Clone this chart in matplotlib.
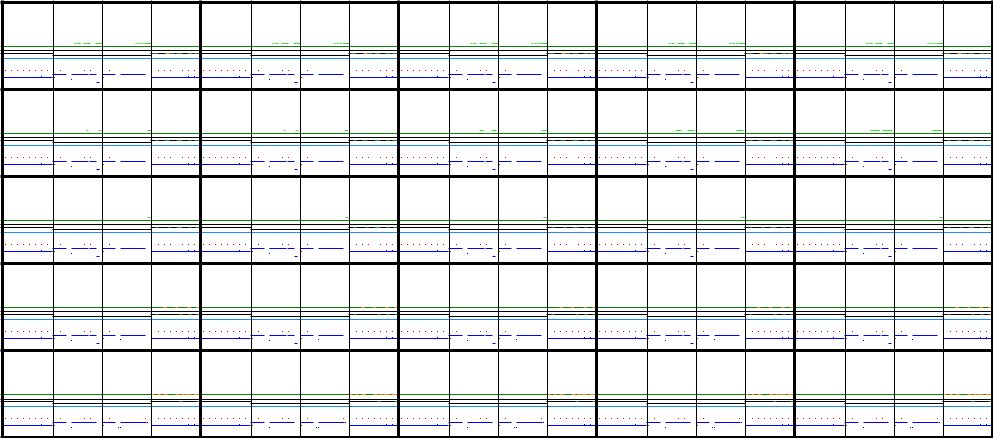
import matplotlib.pyplot as plt
import numpy as np

# 5 x 5 panels, each split into 4 lanes; all values in px inside one panel
n_cols, n_rows = 5, 5
panel_w, panel_h = 198.04, 87.08
lane_edges = [52.3, 101.3, 150.3]

# levels (px from the top of a panel row)
lvl_lime, lvl_green, lvl_black1 = 42.5, 45.2, 49.7
lvl_black2, lvl_black2_mid, lvl_sky = 52.2, 54.3, 57.2
lvl_red, lvl_blue_seg, lvl_blue, lvl_blue_dash = 69.2, 73.3, 76.3, 81.5

# red points
red_x = [4.3, 10.3, 16.3, 22.3, 28.3, 34.3, 40.3, 46.3, 59.3, 83.3, 89.3,
         108.3, 157.3, 163.3, 169.3, 181.3, 187.3, 193.3]
red_extra = [[], [], [], [175.3], [175.3, 144.3]]

# blue
blue_line = [(3.0, 51.0), (151.0, 198.0)]
blue_segs_std = [(52.7, 65.0), (71.0, 87.5), (89.0, 95.0), (102.0, 114.0), (120.0, 144.0)]
blue_segs_last = [(52.7, 65.0), (71.0, 95.0), (102.0, 114.0), (120.0, 145.0)]
blue_segs = [blue_segs_std] * 4 + [blue_segs_last]
blue_ticks = [40.3, 187.3, 193.3]
blue_dots = [[(70.3, 78.3)], [(70.3, 78.3)], [(70.3, 78.3)],
             [(70.3, 78.3), (119.0, 77.7)],
             [(70.3, 78.3), (117.0, 78.3), (119.3, 78.3), (146.0, 73.3)]]
blue_dash = [[(96.0, 98.0)]] * 4 + [[]]
dark_red_x = [53.3, 102.0]

# lime marks above the green line: one list per row, per column
lime_row0 = [(74.0, 75.5), (77.3, 79.0), (83.3, 85.0), (86.3, 89.0), (95.0, 97.0),
             (98.0, 101.0), (135.0, 136.0), (138.0, 139.0), (141.0, 142.0), (144.0, 150.0)]
lime_row1 = [[(86.0, 87.0), (98.0, 100.5), (147.0, 150.0)],
             [(85.5, 86.5), (97.5, 99.5), (146.5, 149.5)],
             [(83.0, 86.0), (95.0, 99.0), (145.0, 149.0)],
             [(81.0, 86.0), (93.0, 99.0), (142.0, 148.0)],
             [(78.0, 86.0), (90.0, 99.0), (140.0, 148.0)]]
lime_row2 = [(147.0, 149.0)]
lime = [[lime_row0] * n_cols, lime_row1, [lime_row2] * n_cols,
        [[]] * n_cols, [[]] * n_cols]

# dark green marks on the second black line (last lane)
moss = [[(152.0, 157.0), (169.0, 173.0), (176.0, 181.0), (187.0, 191.0), (193.0, 198.0)],
        [(155.0, 157.0), (164.0, 168.0), (176.0, 181.0), (188.0, 190.0), (194.0, 198.0)],
        [(155.0, 157.0), (167.0, 169.0), (176.0, 181.0), (188.0, 190.0), (195.0, 198.0)],
        [(155.0, 157.0), (179.0, 181.0), (188.0, 190.0), (196.0, 198.0)],
        [(179.0, 181.0), (196.0, 198.0)]]
orange_on_black = [[(165.0, 168.0)], [], [], [], []]
orange_on_green = [[], [], [],
                   [(163.0, 165.0), (175.0, 176.5), (187.0, 189.0), (196.0, 198.0)],
                   [(151.0, 153.0), (157.0, 159.0), (163.0, 166.0), (175.0, 178.0),
                    (181.0, 183.0), (185.0, 190.0), (193.0, 199.0)]]
green_on_sky = [[], [], [], [], [(151.0, 153.0)]]

W, H = 993, 438
fig = plt.figure(figsize=(W / 100, H / 100), dpi=100)
ax = fig.add_axes([0, 0, 1, 1])
ax.set_xlim(0, W)
ax.set_ylim(H, 0)
ax.axis('off')

PX = 0.72  # one pixel in points


def mid(v):
    # centre of the pixel that holds v
    return np.floor(np.asarray(v, dtype=float)) + 0.5


def segs(y, spans, x0, y0, color, zorder=2):
    if spans:
        a = np.array(spans, dtype=float)
        ax.hlines(np.full(len(a), mid(y0 + y)), np.floor(x0 + a[:, 0]),
                  np.floor(x0 + a[:, 1]) + 1, colors=color, linewidth=PX,
                  zorder=zorder)


def dots(xs, ys, color):
    ax.plot(mid(xs), mid(ys), 's', color=color, ms=PX, mew=0, zorder=3)


for r in range(n_rows):
    y0 = r * panel_h
    # lines running through the whole row
    segs(lvl_green, [(0, W)], 0, y0, '#0a800a')
    segs(lvl_black1, [(0, W)], 0, y0, 'black')
    segs(lvl_sky, [(0, W)], 0, y0, '#1a8cff')
    for c in range(n_cols):
        x0 = c * panel_w
        segs(lvl_black2, [(0, lane_edges[0]), (lane_edges[2], panel_w)], x0, y0, 'black')
        segs(lvl_black2_mid, [(lane_edges[0], lane_edges[2])], x0, y0, 'black')
        segs(lvl_black2, moss[r], x0, y0, '#2f7a2f', 3)
        segs(lvl_black2, orange_on_black[r], x0, y0, '#e8901a', 3)
        segs(lvl_green, orange_on_green[r], x0, y0, '#ff8c1a', 3)
        segs(lvl_sky, green_on_sky[r], x0, y0, '#1a9a1a', 3)
        segs(lvl_lime, lime[r][c], x0, y0, '#33e033')
        segs(lvl_blue, blue_line, x0, y0, '#0000ff')
        segs(lvl_blue_seg, blue_segs[r], x0, y0, '#0000ff')
        segs(lvl_blue_dash, blue_dash[r], x0, y0, '#0000ff')
        bt = np.array(blue_ticks)
        dots(x0 + bt, np.full(len(bt), y0 + lvl_blue - 1), '#0000ff')
        if blue_dots[r]:
            d = np.array(blue_dots[r])
            dots(x0 + d[:, 0], y0 + d[:, 1], '#0000ff')
        rx = np.array(red_x + red_extra[r])
        dots(x0 + rx, np.full(len(rx), y0 + lvl_red), '#ff0000')
        dots(x0 + np.array(dark_red_x), np.full(2, y0 + lvl_blue), '#cc2200')
        # thin lane dividers
        ax.vlines(mid(x0 + np.array(lane_edges)), np.floor(y0), np.floor(y0 + panel_h) + 1,
                  colors='black', linewidth=PX, zorder=4)

# thick panel borders (3 px)
ax.vlines(mid(np.linspace(1.4, W - 1.4, n_cols + 1)), 0, H, colors='black',
          linewidth=3 * PX, zorder=5)
ax.hlines(mid(np.linspace(1.3, H - 1.3, n_rows + 1)), 0, W, colors='black',
          linewidth=3 * PX, zorder=5)

fig.savefig('out.png', dpi=100, facecolor='white')
